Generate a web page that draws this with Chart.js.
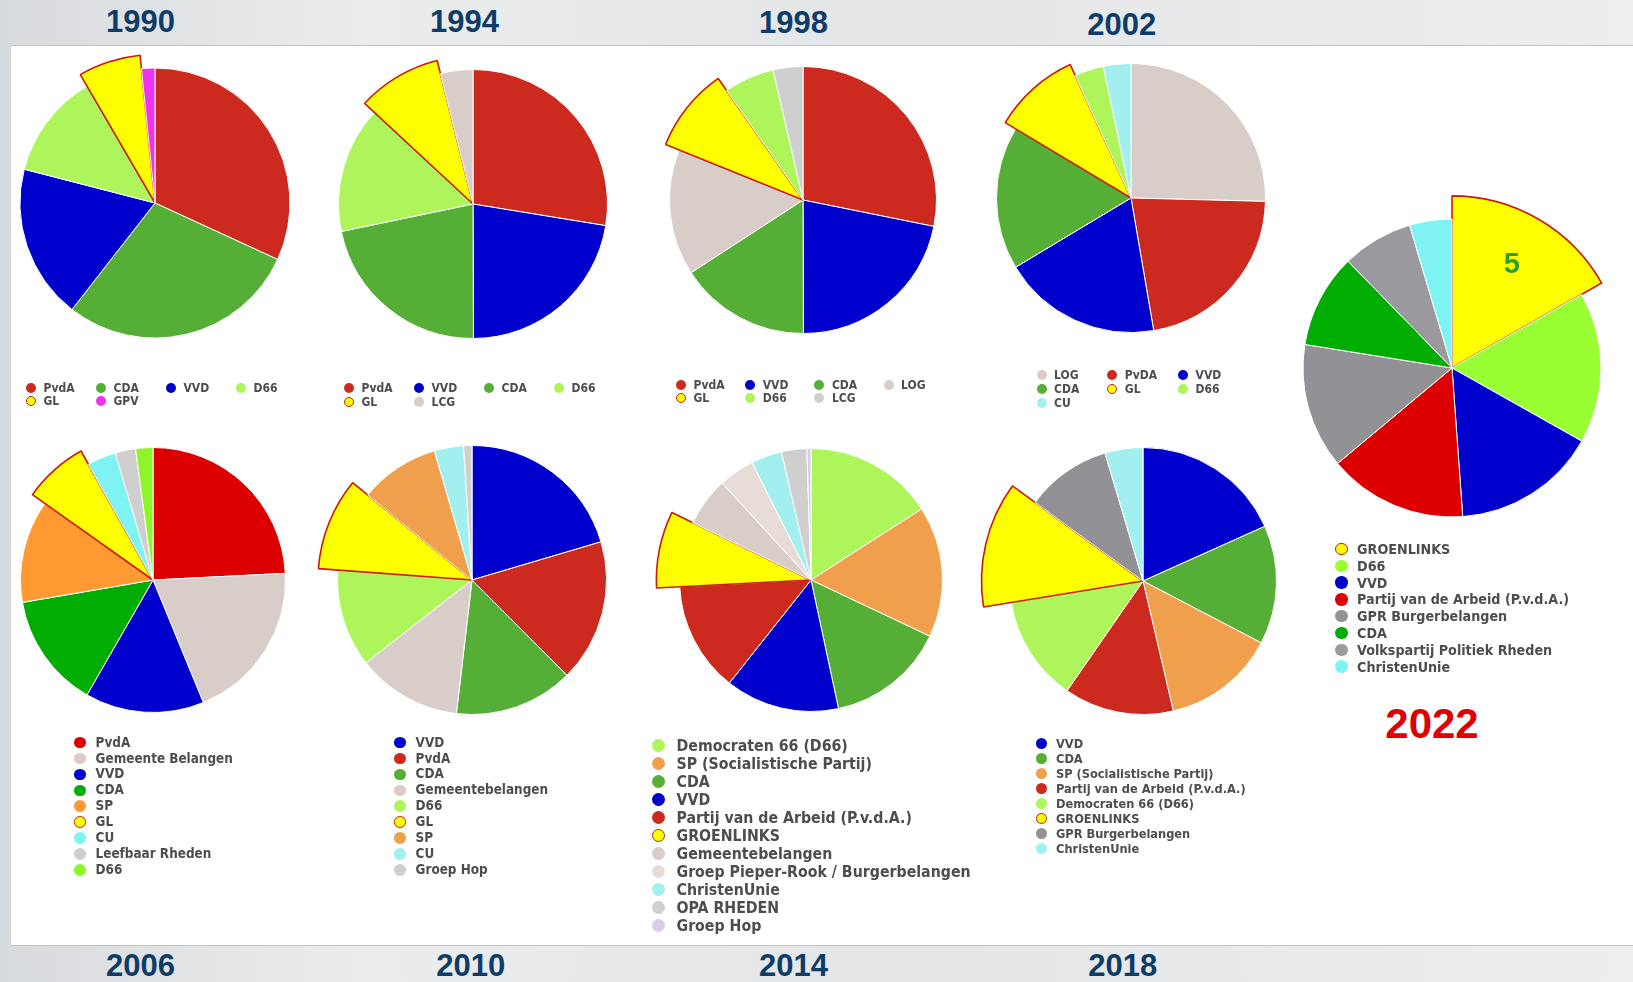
<!DOCTYPE html>
<html>
<head>
<meta charset="utf-8">
<script src="https://cdn.jsdelivr.net/npm/chart.js@4.4.1/dist/chart.umd.min.js"></script>
<style>
body { margin:0; width:1633px; height:982px; overflow:hidden; position:relative;
  background: linear-gradient(to right, #d8dbde 0%, #eaeced 22%, #e3e5e7 55%, #eceeef 100%);
  font-family: 'DejaVu Sans Condensed', 'DejaVu Sans', sans-serif; }
#panel { position:absolute; left:10px; top:45px; right:0; height:899px; background:#fff;
  border-top:1px solid #bfc3c7; border-bottom:1px solid #bfc3c7; border-left:1px solid #d0d3d6; }
.year { position:absolute; transform:translate(-50%,-50%); font:bold 31px 'Liberation Sans', Arial, sans-serif; color:#0d3c68; white-space:nowrap; }
canvas { position:absolute; }
.legend { position:absolute; left:0; top:0; color:#4d4d4d; font-weight:bold; }
.legend .txt { position:absolute; white-space:nowrap; line-height:1; transform:translateY(-50%); }
.legend .dot { position:absolute; border-radius:50%; box-sizing:border-box; }
</style>
</head>
<body>
<div id="panel"></div>
<div id="stage"></div>
<script>
// vote share per party (%), clockwise from 12 o'clock
const parties1990 = ['PvdA', 'CDA', 'VVD', 'D66', 'GL', 'GPV'];
const votes1990 = [31.9, 28.7, 18.5, 12.6, 6.8, 1.6];

const parties1994 = ['PvdA', 'VVD', 'CDA', 'D66', 'GL', 'LCG'];
const votes1994 = [27.6, 22.4, 21.8, 15.2, 9.2, 3.9];

const parties1998 = ['PvdA', 'VVD', 'CDA', 'LOG', 'GL', 'D66', 'LCG'];
const votes1998 = [28.2, 21.8, 15.9, 15.3, 9.2, 6.1, 3.6];

const parties2002 = ['LOG', 'PvDA', 'VVD', 'CDA', 'GL', 'D66', 'CU'];
const votes2002 = [25.4, 21.9, 19.1, 17.2, 9.6, 3.5, 3.3];

const parties2006 = ['PvdA', 'Gemeente Belangen', 'VVD', 'CDA', 'SP', 'GL', 'CU', 'Leefbaar Rheden', 'D66'];
const votes2006 = [24.2, 19.6, 14.5, 14.0, 12.5, 7.1, 3.5, 2.5, 2.1];

const parties2010 = ['VVD', 'PvdA', 'CDA', 'Gemeentebelangen', 'D66', 'GL', 'SP', 'CU', 'Groep Hop'];
const votes2010 = [20.4, 17.1, 14.3, 12.6, 11.7, 9.7, 9.6, 3.5, 1.0];

const parties2014 = ['Democraten 66 (D66)', 'SP (Socialistische Partij)', 'CDA', 'VVD', 'Partij van de Arbeid (P.v.d.A.)',
  'GROENLINKS', 'Gemeentebelangen', 'Groep Pieper-Rook / Burgerbelangen', 'ChristenUnie', 'OPA RHEDEN', 'Groep Hop'];
const votes2014 = [15.9, 16.1, 14.6, 14.0, 13.5, 8.0, 6.0, 4.4, 3.8, 3.1, 0.5];

const parties2018 = ['VVD', 'CDA', 'SP (Socialistische Partij)', 'Partij van de Arbeid (P.v.d.A.)', 'Democraten 66 (D66)',
  'GROENLINKS', 'GPR Burgerbelangen', 'ChristenUnie'];
const votes2018 = [18.3, 14.4, 13.7, 13.3, 12.8, 12.6, 10.4, 4.6];

const parties2022 = ['GROENLINKS', 'D66', 'VVD', 'Partij van de Arbeid (P.v.d.A.)', 'GPR Burgerbelangen', 'CDA',
  'Volkspartij Politiek Rheden', 'ChristenUnie'];
const votes2022 = [16.8, 16.4, 15.7, 15.1, 13.6, 10.2, 7.7, 4.6];
const seats2022 = ['5'];

const years = ['1990', '1994', '1998', '2002', '2006', '2010', '2014', '2018', '2022'];

// colours
const RED = '#cc2a1e', RED2 = '#dd0000', GRN = '#55ae35', GRN2 = '#00ad00', BLU = '#0000cc';
const LGR = '#aef55c', LGR2 = '#8ef52a', LGR3 = '#99ff33', YEL = '#ffff00', GLB = '#cc1a0a';
const BEI = '#d8cdc8', LBE = '#e8dcd8', GRY = '#cfcfcf', DGR = '#929296', CYN = '#a2efef', CYN2 = '#7ff3f3';
const ORA = '#f0a04c', ORA2 = '#ff9a33', MAG = '#ee33ee', LAV = '#dccbe6';

const charts = [
  { year: 0, labels: parties1990, data: votes1990, colors: [RED, GRN, BLU, LGR, YEL, MAG], gl: 4,
    cx: 155, cy: 203, r: 135, grow: 1.1,
    leg: { x: 31, y: 387.5, cols: 4, colW: 70, rowH: 13.6, dot: 10, font: 12, gap: 12.5 } },
  { year: 1, labels: parties1994, data: votes1994, colors: [RED, BLU, GRN, LGR, YEL, BEI], gl: 4,
    cx: 473, cy: 204, r: 134.5, grow: 1.1,
    leg: { x: 349, y: 387.5, cols: 4, colW: 70, rowH: 14, dot: 10, font: 12, gap: 12.5 } },
  { year: 2, labels: parties1998, data: votes1998, colors: [RED, BLU, GRN, BEI, YEL, LGR, GRY], gl: 4,
    cx: 803, cy: 200, r: 133.5, grow: 1.11,
    leg: { x: 681, y: 384.5, cols: 4, colW: 69.2, rowH: 13.6, dot: 10, font: 12, gap: 12.5 } },
  { year: 3, labels: parties2002, data: votes2002, colors: [BEI, RED, BLU, GRN, YEL, LGR, CYN], gl: 4,
    cx: 1131, cy: 198, r: 134.5, grow: 1.09,
    leg: { x: 1041.5, y: 375, cols: 3, colW: 70.8, rowH: 14, dot: 10, font: 12, gap: 12.5 } },
  { year: 4, labels: parties2006, data: votes2006, colors: [RED2, BEI, BLU, GRN2, ORA2, YEL, CYN2, GRY, LGR2], gl: 5,
    cx: 153, cy: 580, r: 132.5, grow: 1.115,
    leg: { x: 80, y: 742.6, cols: 1, rowH: 15.9, dot: 11.5, font: 13.4, gap: 15.6 } },
  { year: 5, labels: parties2010, data: votes2010, colors: [BLU, RED, GRN, BEI, LGR, YEL, ORA, CYN, GRY], gl: 5,
    cx: 472, cy: 580, r: 134.5, grow: 1.145,
    leg: { x: 400, y: 742.6, cols: 1, rowH: 15.9, dot: 11.5, font: 13.4, gap: 15.6 } },
  { year: 6, labels: parties2014, data: votes2014, colors: [LGR, ORA, GRN, BLU, RED, YEL, BEI, LBE, CYN, GRY, LAV], gl: 5,
    cx: 810.5, cy: 580, r: 131.5, grow: 1.176,
    leg: { x: 658.5, y: 745.5, cols: 1, rowH: 18, dot: 13.3, font: 15.75, gap: 18 } },
  { year: 7, labels: parties2018, data: votes2018, colors: [BLU, GRN, ORA, RED, LGR, YEL, DGR, CYN], gl: 5,
    cx: 1142.7, cy: 580.5, r: 133.5, grow: 1.21,
    leg: { x: 1041.5, y: 743.6, cols: 1, rowH: 15, dot: 11, font: 12.7, gap: 14.5 } },
  { year: 8, labels: parties2022, data: votes2022, colors: [YEL, LGR3, BLU, RED2, DGR, GRN2, '#9a9a9e', CYN2], gl: 0,
    cx: 1452, cy: 367.5, r: 149, grow: 1.155, note: seats2022[0],
    leg: { x: 1341.5, y: 549, cols: 1, rowH: 16.8, dot: 12.5, font: 14.2, gap: 15.6 } }
];

const yearPos = [
  [140.6, 21.5], [464.5, 21.5], [793.6, 22.5], [1121.7, 24.5],
  [140.6, 965.5], [470.8, 965.5], [793.6, 965.5], [1122.7, 965.5], [1432, 724]
];

// enlarge the GroenLinks wedge (vertex stays in the centre)
const bigSlice = {
  id: 'bigSlice',
  afterDatasetsUpdate(chart, args, opts) {
    const meta = chart.getDatasetMeta(0);
    const arc = meta.data[opts.index];
    if (arc) arc.outerRadius = meta.controller.outerRadius * opts.grow;
  },
  afterDatasetsDraw(chart, args, opts) {
    if (!opts.note) return;
    const arc = chart.getDatasetMeta(0).data[opts.index];
    const mid = (arc.startAngle + arc.endAngle) / 2;
    const rr = arc.outerRadius * 0.69;
    const ctx = chart.ctx;
    ctx.save();
    ctx.fillStyle = '#2e9e2e';
    ctx.font = 'bold 29px "Liberation Sans", Arial, sans-serif';
    ctx.textAlign = 'center';
    ctx.textBaseline = 'middle';
    ctx.fillText(opts.note, arc.x + Math.cos(mid) * rr, arc.y + Math.sin(mid) * rr);
    ctx.restore();
  }
};

const stage = document.getElementById('stage');
const S = 400;

years.forEach((y, i) => {
  const d = document.createElement('div');
  d.className = 'year';
  d.textContent = y;
  d.style.left = yearPos[i][0] + 'px';
  d.style.top = yearPos[i][1] + 'px';
  if (i === 8) { d.style.color = '#e00000'; d.style.fontSize = '42px'; }
  stage.appendChild(d);
});

charts.forEach(c => {
  const cv = document.createElement('canvas');
  cv.width = S; cv.height = S;
  cv.style.left = (c.cx - S / 2) + 'px';
  cv.style.top = (c.cy - S / 2) + 'px';
  stage.appendChild(cv);

  const borders = c.colors.map((_, i) => i === c.gl ? GLB : '#ffffff');
  const widths = c.colors.map((_, i) => i === c.gl ? 1.6 : 1);

  const chart = new Chart(cv, {
    type: 'pie',
    data: {
      labels: c.labels,
      datasets: [{
        data: c.data,
        backgroundColor: c.colors,
        borderColor: borders,
        borderWidth: widths
      }]
    },
    options: {
      responsive: false,
      animation: false,
      radius: c.r,
      plugins: {
        legend: { display: false },
        tooltip: { enabled: false },
        bigSlice: { index: c.gl, grow: c.grow, note: c.note }
      }
    },
    plugins: [bigSlice]
  });

  // html legend from the chart's own data
  const L = c.leg;
  const box = document.createElement('div');
  box.className = 'legend';
  box.style.fontSize = L.font + 'px';
  const ds = chart.data.datasets[0];
  chart.data.labels.forEach((lab, i) => {
    const col = i % L.cols, row = Math.floor(i / L.cols);
    const x = L.x + col * (L.colW || 0), y = L.y + row * L.rowH;
    const dot = document.createElement('span');
    dot.className = 'dot';
    dot.style.width = dot.style.height = L.dot + 'px';
    dot.style.left = (x - L.dot / 2) + 'px';
    dot.style.top = (y - L.dot / 2) + 'px';
    dot.style.background = ds.backgroundColor[i];
    if (i === c.gl) dot.style.border = '1.5px solid ' + GLB;
    const t = document.createElement('span');
    t.className = 'txt';
    t.textContent = lab;
    t.style.left = (x + L.gap) + 'px';
    t.style.top = y + 'px';
    box.appendChild(dot);
    box.appendChild(t);
  });
  stage.appendChild(box);
});
</script>
</body>
</html>
